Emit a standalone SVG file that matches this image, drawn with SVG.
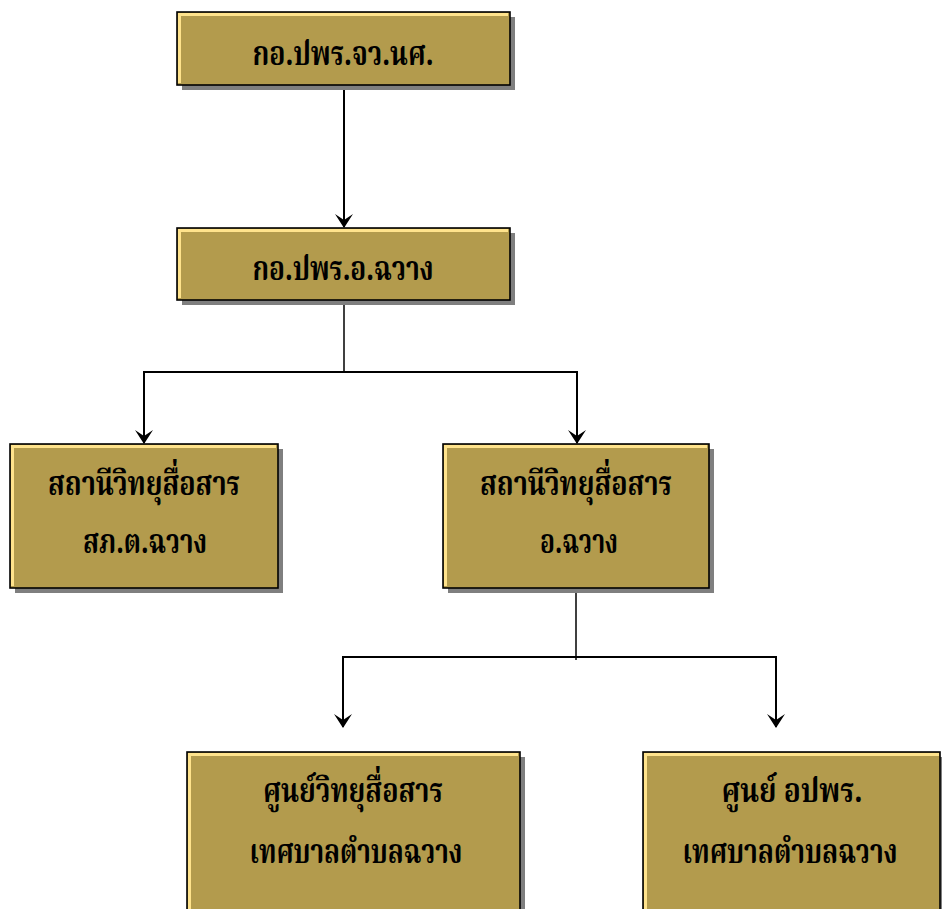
<svg xmlns="http://www.w3.org/2000/svg" width="942" height="909" viewBox="0 0 942 909">
<style>
.sh{fill:#7f7f7f}
.bx{fill:#B39B4D;stroke:#000;stroke-width:1.6}
.hl{fill:none;stroke:#FFE38C;stroke-width:3}
.t{font-family:"Noto Serif Thai","Noto Sans Thai","Norasi","Loma","Garuda","Liberation Serif",serif;font-weight:bold;font-size:34px;fill:#000;text-anchor:middle}
.ln{fill:none;stroke:#000;stroke-width:2}
.st{fill:none;stroke:#000;stroke-width:1.5}
</style>
<defs>
<marker id="ah" viewBox="0 0 14 18" refX="13" refY="9" markerWidth="14" markerHeight="18" markerUnits="userSpaceOnUse" orient="auto">
<path d="M0,0 L14,9 L0,18 L6,9 Z" fill="#000"/>
</marker>
</defs>
<g id="connectors">
<line class="ln" x1="344" y1="86" x2="344" y2="227" marker-end="url(#ah)"/>
<line class="st" x1="344" y1="301" x2="344" y2="372"/>
<polyline class="ln" points="144,443 144,372 577,372 577,443" />
<line class="ln" x1="144" y1="380" x2="144" y2="443" marker-end="url(#ah)"/>
<line class="ln" x1="577" y1="380" x2="577" y2="443" marker-end="url(#ah)"/>
<line class="st" x1="576" y1="589" x2="576" y2="660"/>
<polyline class="ln" points="343,727 343,657 776,657 776,727"/>
<line class="ln" x1="343" y1="665" x2="343" y2="727" marker-end="url(#ah)"/>
<line class="ln" x1="776" y1="665" x2="776" y2="727" marker-end="url(#ah)"/>
</g>
<g id="n1">
<rect class="sh" x="182" y="17" width="333" height="73"/>
<rect class="bx" x="177" y="12" width="333" height="73"/>
<polyline class="hl" points="179.5,83 179.5,14.5 508,14.5"/>
<text class="t" x="343" y="65" textLength="181" lengthAdjust="spacingAndGlyphs">กอ.ปพร.จว.นศ.</text>
</g>
<g id="n2">
<rect class="sh" x="182" y="233" width="333" height="72"/>
<rect class="bx" x="177" y="228" width="333" height="72"/>
<polyline class="hl" points="179.5,298 179.5,230.5 508,230.5"/>
<text class="t" x="343" y="280" textLength="181" lengthAdjust="spacingAndGlyphs">กอ.ปพร.อ.ฉวาง</text>
</g>
<g id="n3">
<rect class="sh" x="15" y="449" width="268" height="144"/>
<rect class="bx" x="10" y="444" width="268" height="144"/>
<polyline class="hl" points="12.5,586 12.5,446.5 276,446.5"/>
<text class="t" x="144" y="495" textLength="192" lengthAdjust="spacingAndGlyphs">สถานีวิทยุสื่อสาร</text>
<text class="t" x="145" y="553" textLength="124" lengthAdjust="spacingAndGlyphs">สภ.ต.ฉวาง</text>
</g>
<g id="n4">
<rect class="sh" x="448" y="449" width="266" height="144"/>
<rect class="bx" x="443" y="444" width="266" height="144"/>
<polyline class="hl" points="445.5,586 445.5,446.5 707,446.5"/>
<text class="t" x="576" y="495" textLength="192" lengthAdjust="spacingAndGlyphs">สถานีวิทยุสื่อสาร</text>
<text class="t" x="579" y="553" textLength="78" lengthAdjust="spacingAndGlyphs">อ.ฉวาง</text>
</g>
<g id="n5">
<rect class="sh" x="192" y="757" width="333" height="152"/>
<rect class="bx" x="187" y="752" width="333" height="160"/>
<polyline class="hl" points="189.5,909 189.5,754.5 518,754.5"/>
<text class="t" x="353" y="802" textLength="180" lengthAdjust="spacingAndGlyphs">ศูนย์วิทยุสื่อสาร</text>
<text class="t" x="356" y="863" textLength="213" lengthAdjust="spacingAndGlyphs">เทศบาลตำบลฉวาง</text>
</g>
<g id="n6">
<rect class="sh" x="648" y="757" width="294" height="152"/>
<rect class="bx" x="643" y="752" width="297" height="160"/>
<polyline class="hl" points="645.5,909 645.5,754.5 939,754.5"/>
<text class="t" x="792" y="802" textLength="141" lengthAdjust="spacingAndGlyphs">ศูนย์ อปพร.</text>
<text class="t" x="790" y="863" textLength="215" lengthAdjust="spacingAndGlyphs">เทศบาลตำบลฉวาง</text>
</g>
</svg>
